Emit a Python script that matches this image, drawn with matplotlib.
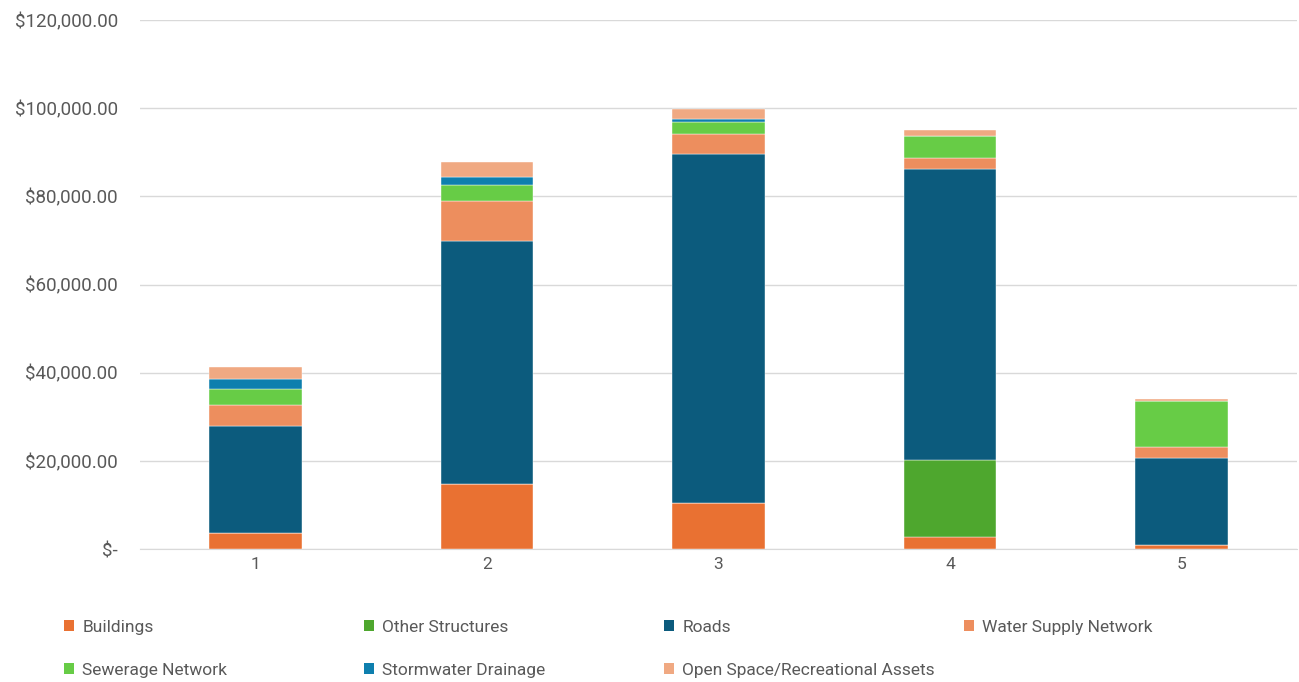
import matplotlib
matplotlib.use("Agg")
from matplotlib import pyplot as plt
from matplotlib.patches import Patch
from matplotlib.ticker import FuncFormatter
import numpy as np

plt.rcParams['font.family'] = ['Roboto', 'DejaVu Sans']

categories = ['1', '2', '3', '4', '5']

buildings = [3560, 14740, 10430, 2720, 980]
other_structures = [0, 0, 0, 17470, 0]
roads = [24340, 55110, 79090, 65920, 19730]
water_supply = [4760, 9080, 4600, 2500, 2420]
sewerage = [3700, 3690, 2650, 5130, 10510]
stormwater = [2200, 1680, 750, 0, 0]
open_space = [2650, 3470, 2270, 1360, 380]

series_names = ['Buildings', 'Other Structures', 'Roads', 'Water Supply Network',
                'Sewerage Network', 'Stormwater Drainage', 'Open Space/Recreational Assets']
series_values = [buildings, other_structures, roads, water_supply,
                 sewerage, stormwater, open_space]
colors = ['#E97132', '#4EA72E', '#0C5B7D', '#ED8E5E', '#67CC46', '#0E7FAE', '#F0A982']

text_grey = '#595959'


def money(v, pos):
    if v == 0:
        return '$-'
    return '${:,.2f}'.format(v)


def main():
    fig = plt.figure(figsize=(12.99, 6.82), dpi=100)
    ax = fig.add_axes([140 / 1299, 1 - 549 / 682, 1157 / 1299, 529 / 682])

    x = np.arange(1, len(categories) + 1)
    bottom = np.zeros(len(categories))
    for name, vals, col in zip(series_names, series_values, colors):
        vals = np.array(vals, dtype=float)
        ax.bar(x, vals, width=0.4, bottom=bottom, color=col, label=name,
               edgecolor='white', linewidth=0.3, zorder=3)
        bottom += vals

    ax.set_xlim(0.5, 5.5)
    ax.set_ylim(0, 120000)
    ax.set_yticks(np.arange(0, 120001, 20000))
    ax.yaxis.set_major_formatter(FuncFormatter(money))
    ax.set_xticks(x)
    ax.set_xticklabels(categories)
    ax.grid(axis='y', color='#D9D9D9', linewidth=1, zorder=0)
    for s in ['top', 'right', 'left']:
        ax.spines[s].set_visible(False)
    ax.spines['bottom'].set_color('#D9D9D9')
    ax.tick_params(axis='both', length=0, labelsize=12.5, colors=text_grey)
    ax.tick_params(axis='y', pad=16)
    ax.tick_params(axis='x', pad=6)
    for lab in ax.get_yticklabels():
        lab.set_fontstretch('expanded')
        lab.set_fontsize(13.5)

    # legend laid out as 4 fixed-width columns, filled row by row
    handles = [Patch(facecolor=c, edgecolor='none') for c in colors]
    col_x = [64, 364, 664, 964]
    for c in range(4):
        idx = [i for i in range(len(series_names)) if i % 4 == c]
        fig.legend([handles[i] for i in idx], [series_names[i] for i in idx],
                   loc='upper left', bbox_to_anchor=(col_x[c] / 1299, 1 - 620 / 682),
                   frameon=False, fontsize=12.5, handlelength=0.6, handleheight=0.6,
                   handletextpad=0.45, labelspacing=1.6, borderpad=0,
                   borderaxespad=0, labelcolor=text_grey)

    fig.savefig('out.png', dpi=100)


if __name__ == '__main__':
    main()
